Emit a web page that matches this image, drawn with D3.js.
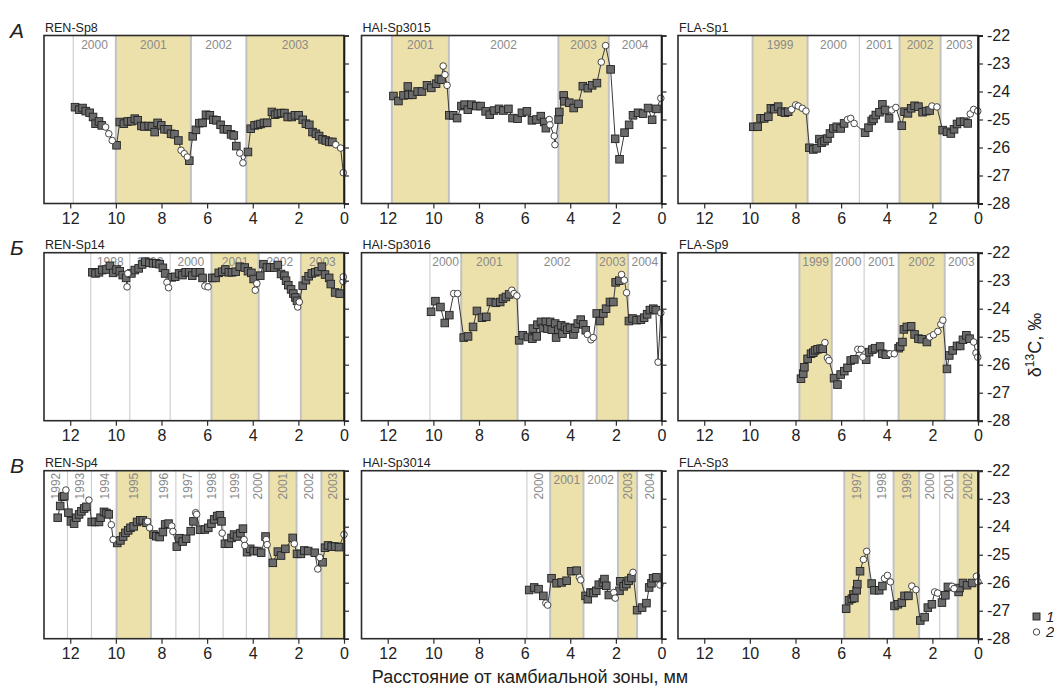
<!DOCTYPE html>
<html><head><meta charset="utf-8">
<script src="https://cdn.jsdelivr.net/npm/d3@7"></script>
<style>
body{margin:0;background:#fff;}
svg{font-family:"Liberation Sans",Arial,sans-serif;}
</style>
</head><body>
<svg id="chart" width="1054" height="687"></svg>
<script>
// δ13C profiles: [distance from cambium, mm; δ13C, ‰; point type (1 or 2)]
const renSp8 = [
[11.79,-24.56,1],[11.61,-24.65,1],[11.46,-24.59,1],[11.32,-24.70,1],[11.15,-24.76,1],[11.00,-24.91,1],[10.89,-25.15,1],[10.74,-25.07,1],[10.62,-25.21,1],
[10.45,-25.27,2],[10.31,-25.51,2],[10.16,-25.75,2],
[9.97,-25.92,1],[9.83,-25.09,1],[9.65,-25.15,1],[9.48,-25.07,1],[9.32,-25.06,1],[9.17,-24.97,1],[9.04,-25.03,1],[8.88,-25.23,1],[8.75,-25.25,1],[8.56,-25.23,1],[8.42,-25.25,1],[8.30,-25.45,1],[8.17,-25.12,1],[8.01,-25.21,1],[7.87,-25.35,1],[7.72,-25.35,1],[7.58,-25.51,1],[7.43,-25.53,1],[7.26,-25.75,1],
[7.14,-26.10,2],[7.00,-26.22,2],[6.87,-26.34,2],
[6.78,-26.47,1],[6.63,-25.60,1],[6.49,-25.37,1],[6.34,-25.13,1],[6.20,-25.12,1],[6.05,-24.83,1],[5.88,-24.85,1],[5.73,-25.01,1],[5.59,-25.03,1],[5.41,-25.19,1],[5.27,-25.35,1],[5.11,-25.35,1],[4.95,-25.53,1],[4.83,-25.57,1],[4.72,-25.95,1],
[4.57,-26.20,2],[4.43,-26.55,2],
[4.21,-26.16,1],[4.09,-25.33,1],[3.92,-25.21,1],[3.77,-25.19,1],[3.66,-25.16,1],[3.51,-25.12,1],[3.37,-25.12,1],[3.16,-24.73,1],[3.02,-24.83,1],[2.90,-24.79,1],[2.76,-24.77,1],[2.61,-24.77,1],[2.47,-24.91,1],[2.29,-24.91,1],[2.15,-24.85,1],[1.99,-24.85,1],[1.81,-25.01,1],[1.67,-25.15,1],[1.52,-25.19,1],[1.38,-25.45,1],[1.23,-25.51,1],[1.09,-25.59,1],[0.94,-25.71,1],[0.80,-25.75,1],[0.65,-25.80,1],[0.51,-25.80,1],
[0.36,-25.90,2],[0.15,-26.02,2],[0.03,-26.90,2]
];
const haiSp3015 = [
[11.75,-24.16,1],[11.53,-24.34,1],[11.31,-24.14,1],[11.12,-23.82,1],[11.09,-24.12,1],[10.92,-24.12,1],[10.69,-24.00,1],[10.50,-24.00,1],[10.28,-23.78,1],[10.09,-23.87,1],[9.88,-23.72,1],[9.76,-23.55,1],[9.64,-23.58,1],
[9.57,-23.09,2],[9.49,-23.40,2],[9.40,-23.78,2],
[9.30,-24.85,1],[9.13,-24.85,1],[8.96,-24.95,1],[8.77,-24.52,1],[8.63,-24.47,1],[8.49,-24.65,1],[8.33,-24.47,1],[8.12,-24.52,1],[7.93,-24.52,1],[7.71,-24.71,1],[7.53,-24.83,1],[7.34,-24.68,1],[7.12,-24.62,1],[6.93,-24.68,1],[6.71,-24.62,1],[6.53,-24.95,1],[6.31,-24.97,1],[6.12,-24.76,1],[5.90,-24.71,1],[5.68,-25.03,1],[5.48,-25.00,1],[5.29,-24.88,1],[5.14,-25.09,1],[5.07,-25.31,1],
[4.92,-25.00,2],[4.89,-25.19,2],[4.70,-25.59,2],[4.67,-25.90,2],
[4.51,-25.00,1],[4.48,-24.73,1],[4.29,-24.14,1],[4.26,-24.35,1],[4.04,-24.40,1],[3.85,-24.59,1],[3.64,-24.44,1],[3.45,-23.81,1],[3.23,-23.88,1],[3.04,-23.78,1],[2.83,-23.70,1],
[2.64,-22.95,2],[2.45,-22.36,2],
[2.23,-23.21,1],[2.03,-25.69,1],[1.84,-26.42,1],[1.62,-25.47,1],[1.42,-25.19,1],[1.25,-24.85,1],[1.03,-24.76,1],[0.81,-24.79,1],[0.59,-24.59,1],[0.41,-25.01,1],[0.22,-24.62,1],
[0.03,-24.24,2]
];
const flaSp1 = [
[9.85,-25.26,1],[9.66,-25.26,1],[9.53,-24.96,1],[9.37,-24.96,1],[9.19,-24.90,1],[9.08,-24.60,1],[8.93,-24.63,1],[8.76,-24.54,1],[8.61,-24.72,1],[8.46,-24.76,1],[8.32,-24.72,1],
[8.17,-24.64,2],[7.99,-24.48,2],[7.88,-24.52,2],[7.70,-24.60,2],[7.54,-24.70,2],
[7.39,-26.01,1],[7.22,-26.07,1],[7.07,-26.03,1],[6.95,-25.70,1],[6.85,-25.83,1],[6.73,-25.77,1],[6.60,-25.68,1],[6.49,-25.50,1],[6.34,-25.32,1],[6.19,-25.26,1],[6.02,-25.32,1],[5.87,-25.14,1],
[5.72,-25.00,2],[5.58,-24.96,2],[5.43,-25.14,2],
[4.95,-25.47,1],[4.80,-25.29,1],[4.66,-25.05,1],[4.58,-24.98,1],[4.48,-24.84,1],[4.32,-24.74,1],[4.19,-24.46,1],[4.07,-24.66,1],[3.90,-24.96,1],
[3.78,-24.66,2],[3.60,-24.57,2],
[3.34,-25.22,1],[3.22,-24.72,1],[3.07,-24.78,1],[2.93,-24.60,1],[2.78,-24.51,1],[2.61,-24.54,1],[2.43,-24.74,1],[2.27,-24.70,1],[2.12,-24.68,1],
[2.02,-24.52,2],[1.80,-24.55,2],
[1.55,-25.38,1],[1.36,-25.44,1],[1.19,-25.50,1],[1.05,-25.35,1],[0.92,-25.16,1],[0.78,-25.08,1],[0.61,-25.08,1],[0.45,-25.14,1],
[0.34,-24.80,2],[0.19,-24.64,2],[0.01,-24.70,2]
];
const renSp14 = [
[11.03,-22.70,1],[10.89,-22.74,1],[10.74,-22.70,1],[10.60,-22.62,1],[10.41,-22.60,1],[10.26,-22.47,1],[10.12,-22.72,1],[9.97,-22.60,1],[9.83,-22.66,1],[9.70,-22.80,1],[9.55,-22.90,1],
[9.51,-23.22,2],[9.48,-22.74,2],
[9.32,-22.74,1],[9.17,-22.62,1],[9.00,-22.56,1],[8.85,-22.42,1],[8.71,-22.32,1],[8.53,-22.36,1],[8.37,-22.38,1],[8.23,-22.38,1],[8.08,-22.41,1],[7.94,-22.54,1],[7.84,-22.74,1],
[7.76,-23.06,2],[7.69,-23.25,2],
[7.55,-22.88,1],[7.40,-22.86,1],[7.23,-22.74,1],[7.08,-22.80,1],[6.94,-22.70,1],[6.79,-22.70,1],[6.65,-22.82,1],[6.50,-22.70,1],[6.31,-22.70,1],[6.20,-22.90,1],
[6.10,-23.19,2],[5.96,-23.22,2],
[5.78,-22.90,1],[5.63,-22.90,1],[5.49,-22.72,1],[5.34,-22.68,1],[5.20,-22.60,1],[5.05,-22.70,1],[4.91,-22.70,1],[4.75,-22.68,1],[4.57,-22.50,1],[4.35,-22.53,1],[4.21,-22.66,1],[4.06,-22.72,1],[3.96,-22.94,1],
[3.89,-23.34,2],[3.82,-23.10,2],
[3.67,-22.82,1],[3.53,-22.41,1],[3.38,-22.53,1],[3.24,-22.53,1],[3.05,-22.53,1],[2.90,-22.44,1],[2.76,-22.76,1],[2.61,-22.82,1],[2.54,-23.00,1],[2.44,-23.16,1],[2.32,-23.31,1],[2.22,-23.46,1],[2.13,-23.60,1],[2.06,-23.72,1],
[2.03,-23.94,2],[1.96,-23.76,2],
[1.81,-23.18,1],[1.67,-22.98,1],[1.55,-22.84,1],[1.41,-22.74,1],[1.26,-22.70,1],[1.12,-22.66,1],[0.97,-22.50,1],[0.83,-22.78,1],[0.65,-22.90,1],[0.58,-23.12,1],[0.39,-23.42,1],[0.19,-23.46,1],
[0.04,-23.02,2],[0.03,-22.86,2]
];
const haiSp3016 = [
[10.10,-24.11,1],[9.91,-23.73,1],[9.69,-23.94,1],[9.50,-24.51,1],[9.30,-24.23,1],
[9.11,-23.46,2],[8.94,-23.46,2],
[8.67,-25.03,1],[8.48,-24.99,1],[8.26,-24.65,1],[8.09,-24.08,1],[7.87,-24.32,1],[7.68,-24.29,1],[7.48,-23.76,1],[7.26,-23.79,1],[7.07,-23.76,1],[6.95,-23.64,1],[6.82,-23.58,1],[6.68,-23.49,1],
[6.56,-23.34,2],[6.46,-23.46,2],[6.34,-23.54,2],
[6.24,-25.13,1],[6.08,-24.95,1],[5.86,-25.01,1],[5.66,-25.07,1],[5.64,-24.71,1],[5.47,-24.99,1],[5.44,-24.57,1],[5.28,-24.47,1],[5.20,-24.69,1],[5.07,-24.47,1],[5.00,-24.71,1],[4.88,-24.47,1],[4.81,-24.75,1],[4.66,-24.53,1],[4.62,-25.03,1],[4.52,-24.75,1],[4.40,-24.59,1],[4.34,-24.89,1],[4.23,-24.65,1],[4.13,-24.75,1],[4.01,-24.68,1],[3.86,-24.92,1],[3.79,-24.71,1],[3.67,-24.53,1],[3.54,-24.39,1],[3.43,-24.56,1],[3.32,-24.77,1],
[3.25,-24.92,2],[3.09,-25.11,2],[2.99,-25.03,2],
[2.84,-24.17,1],[2.70,-24.44,1],[2.55,-24.17,1],[2.43,-24.00,1],[2.26,-23.76,1],[2.11,-23.76,1],[2.01,-23.06,1],[1.85,-23.00,1],
[1.75,-22.78,2],[1.63,-22.98,2],[1.53,-23.43,2],
[1.43,-24.44,1],[1.27,-24.35,1],[1.09,-24.41,1],[0.90,-24.39,1],[0.76,-24.32,1],[0.63,-24.20,1],[0.51,-24.05,1],[0.36,-24.00,1],[0.25,-24.05,1],
[0.15,-25.91,2],[0.03,-24.15,2]
];
const flaSp9 = [
[7.76,-26.50,1],[7.66,-26.32,1],[7.61,-26.09,1],[7.47,-25.79,1],[7.32,-25.61,1],[7.22,-25.57,1],[7.14,-25.49,1],[7.03,-25.45,1],[6.90,-25.43,1],[6.81,-25.43,1],
[6.71,-25.21,2],[6.60,-25.76,2],[6.53,-25.85,2],
[6.31,-26.48,1],[6.16,-26.71,1],[6.02,-26.35,1],[5.86,-26.23,1],[5.72,-26.11,1],[5.58,-25.85,1],[5.42,-25.81,1],
[5.27,-25.45,2],[5.12,-25.45,2],[5.05,-25.73,2],
[4.90,-25.82,1],[4.77,-25.55,1],[4.63,-25.46,1],[4.51,-25.41,1],[4.29,-25.35,1],[4.19,-25.61,1],[4.04,-25.64,1],
[3.85,-25.61,2],[3.67,-25.61,2],
[3.48,-25.41,1],[3.41,-25.35,1],[3.31,-25.19,1],[3.25,-24.74,1],[3.12,-24.65,1],[2.93,-24.63,1],[2.78,-24.92,1],[2.61,-25.07,1],[2.46,-25.09,1],[2.24,-25.19,1],
[2.12,-25.01,2],[1.95,-24.93,2],[1.76,-24.81,2],[1.63,-24.56,2],[1.54,-24.41,2],
[1.36,-26.15,1],[1.26,-25.67,1],[1.11,-25.49,1],[0.92,-25.33,1],[0.78,-25.33,1],[0.66,-25.11,1],[0.51,-24.95,1],[0.37,-25.07,1],
[0.19,-25.19,2],[0.09,-25.58,2],[0.01,-25.73,2]
];
const renSp4 = [
[12.55,-23.68,1],[12.44,-23.26,1],[12.34,-22.93,1],[12.26,-22.91,1],
[12.19,-22.69,2],
[12.08,-23.50,1],[11.97,-23.81,1],[11.83,-23.89,1],[11.73,-23.68,1],[11.61,-23.56,1],[11.51,-23.45,1],[11.39,-23.35,1],[11.29,-23.29,1],
[11.18,-23.05,2],
[11.06,-23.83,1],[10.91,-23.83,1],[10.74,-23.83,1],[10.67,-23.68,1],[10.52,-23.47,1],[10.41,-23.51,1],[10.31,-23.56,1],
[10.20,-23.93,2],[10.12,-24.46,2],
[9.94,-24.58,1],[9.80,-24.49,1],[9.68,-24.35,1],[9.58,-24.22,1],[9.46,-24.13,1],[9.36,-24.04,1],[9.22,-23.99,1],[9.07,-23.83,1],[8.93,-23.77,1],[8.82,-23.77,1],[8.66,-23.86,1],
[8.61,-23.81,2],[8.52,-24.04,2],
[8.35,-24.28,1],[8.23,-24.34,1],[8.08,-24.37,1],[7.94,-24.19,1],[7.84,-23.92,1],[7.69,-23.89,1],
[7.55,-23.98,2],[7.50,-24.17,2],
[7.33,-24.71,1],[7.21,-24.41,1],[7.07,-24.53,1],[6.92,-24.43,1],[6.72,-24.16,1],[6.60,-23.81,1],
[6.50,-23.50,2],[6.46,-23.56,2],
[6.31,-24.11,1],[6.10,-24.10,1],[5.95,-24.04,1],[5.81,-23.89,1],[5.69,-23.74,1],[5.56,-23.62,1],[5.44,-23.59,1],[5.37,-23.81,1],
[5.34,-24.23,2],
[5.22,-24.61,1],[5.05,-24.61,1],[4.93,-24.40,1],[4.82,-24.28,1],[4.69,-24.35,1],[4.54,-24.23,1],[4.43,-24.07,1],
[4.38,-24.46,2],[4.35,-24.67,2],
[4.25,-24.91,1],[4.11,-24.79,1],[3.96,-24.87,1],[3.80,-24.87,1],[3.63,-24.93,1],[3.44,-24.35,1],
[3.41,-24.46,2],[3.37,-24.64,2],
[3.12,-25.29,1],[2.90,-24.89,1],[2.76,-25.03,1],[2.57,-24.79,1],[2.25,-24.40,1],
[2.18,-24.61,2],
[2.06,-24.97,1],[1.89,-24.97,1],[1.74,-24.85,1],[1.57,-24.87,1],[1.28,-24.93,1],
[1.15,-25.51,2],[1.06,-25.10,2],
[0.94,-25.27,1],[0.83,-24.75,1],[0.70,-24.67,1],[0.54,-24.71,1],[0.39,-24.71,1],[0.22,-24.73,1],
[0.00,-24.28,2]
];
const haiSp3014 = [
[5.80,-26.26,1],[5.58,-26.17,1],[5.39,-26.23,1],[5.18,-26.47,1],
[5.07,-26.73,2],[4.99,-26.80,2],
[4.82,-25.84,1],[4.60,-26.02,1],[4.38,-25.99,1],[4.16,-25.93,1],[3.96,-25.59,1],[3.72,-25.57,1],
[3.60,-25.81,2],[3.54,-25.90,2],
[3.33,-26.47,1],[3.23,-26.59,1],[3.11,-26.35,1],[2.98,-26.37,1],[2.86,-26.29,1],[2.75,-26.07,1],[2.57,-25.99,1],[2.50,-25.87,1],[2.42,-26.11,1],[2.31,-26.44,1],
[2.09,-26.35,2],[2.03,-26.55,2],
[1.84,-26.29,1],[1.81,-25.95,1],[1.66,-26.13,1],[1.54,-26.05,1],[1.44,-25.93,1],[1.32,-25.83,1],
[1.25,-25.63,2],
[1.07,-26.98,1],[0.85,-26.89,1],[0.66,-26.73,1],[0.54,-26.17,1],[0.44,-26.02,1],[0.37,-25.84,1],[0.22,-25.81,1],
[0.07,-26.08,2]
];
const flaSp3 = [
[5.78,-26.93,1],[5.65,-26.63,1],[5.53,-26.57,1],[5.46,-26.42,1],[5.42,-26.55,1],[5.32,-26.27,1],[5.29,-26.05,1],[5.17,-25.59,1],
[5.02,-25.17,2],[4.88,-24.88,2],
[4.66,-26.03,1],[4.54,-26.27,1],[4.33,-26.27,1],[4.19,-26.12,1],
[4.10,-25.85,2],[3.97,-25.74,2],[3.84,-25.97,2],
[3.66,-26.83,1],[3.51,-26.77,1],[3.34,-26.71,1],[3.22,-26.47,1],[3.05,-26.47,1],
[2.90,-26.12,2],[2.72,-26.25,2],
[2.53,-27.35,1],[2.34,-27.23,1],[2.20,-26.89,1],[2.02,-26.77,1],
[1.90,-26.33,2],[1.77,-26.37,2],
[1.58,-26.71,1],[1.43,-26.45,1],[1.32,-26.15,1],
[1.14,-26.13,2],[1.05,-26.21,2],
[0.85,-26.33,1],[0.81,-26.19,1],[0.66,-26.01,1],[0.48,-26.09,1],[0.26,-26.01,1],
[0.07,-25.77,2],[0.00,-25.97,2]
];

// annual ring boundaries (mm from cambium) and the years between them
const renSp8Bounds = [11.87, 10.0, 6.71, 4.28, 0];
const renSp8Years = ["2000","2001","2002","2003"];
const haiSp3015Bounds = [11.82, 9.32, 4.52, 2.31, 0];
const haiSp3015Years = ["2001","2002","2003","2004"];
const flaSp1Bounds = [9.88, 7.47, 5.20, 3.44, 1.64, 0];
const flaSp1Years = ["1999","2000","2001","2002","2003"];
const renSp14Bounds = [11.10, 9.39, 7.62, 5.81, 3.74, 1.89, 0];
const renSp14Years = ["1998","1999","2000","2001","2002","2003"];
const haiSp3016Bounds = [10.15, 8.78, 6.31, 2.84, 1.46, 0];
const haiSp3016Years = ["2000","2001","2002","2003","2004"];
const flaSp9Bounds = [7.83, 6.41, 4.99, 3.48, 1.46, 0];
const flaSp9Years = ["1999","2000","2001","2002","2003"];
const renSp4Bounds = [13.15, 12.12, 11.07, 9.97, 8.46, 7.37, 6.34, 5.30, 4.28, 3.29, 2.08, 0.99, 0];
const renSp4Years = ["1992","1993","1994","1995","1996","1997","1998","1999","2000","2001","2002","2003"];
const haiSp3014Bounds = [5.90, 4.88, 3.42, 1.91, 1.07, 0];
const haiSp3014Years = ["2000","2001","2002","2003","2004"];
const flaSp3Bounds = [5.86, 4.77, 3.70, 2.58, 1.68, 0.89, 0];
const flaSp3Years = ["1997","1998","1999","2000","2001","2002"];

// highlighted years per site
const renShaded = ["1995","2001","2003"];
const haiShaded = ["2001","2003"];
const flaShaded = ["1997","1999","2002"];

const xTicks = [12,10,8,6,4,2,0];
const yTicks = [-22,-23,-24,-25,-26,-27,-28];
const rowLetters = ["А","Б","В"];
const xTitle = "Расстояние от камбиальной зоны, мм";

const panels = [
  {name:"REN-Sp8", data:renSp8, bounds:renSp8Bounds, years:renSp8Years, shaded:renShaded},
  {name:"HAI-Sp3015", data:haiSp3015, bounds:haiSp3015Bounds, years:haiSp3015Years, shaded:haiShaded},
  {name:"FLA-Sp1", data:flaSp1, bounds:flaSp1Bounds, years:flaSp1Years, shaded:flaShaded},
  {name:"REN-Sp14", data:renSp14, bounds:renSp14Bounds, years:renSp14Years, shaded:renShaded},
  {name:"HAI-Sp3016", data:haiSp3016, bounds:haiSp3016Bounds, years:haiSp3016Years, shaded:haiShaded},
  {name:"FLA-Sp9", data:flaSp9, bounds:flaSp9Bounds, years:flaSp9Years, shaded:flaShaded},
  {name:"REN-Sp4", data:renSp4, bounds:renSp4Bounds, years:renSp4Years, shaded:renShaded},
  {name:"HAI-Sp3014", data:haiSp3014, bounds:haiSp3014Bounds, years:haiSp3014Years, shaded:haiShaded},
  {name:"FLA-Sp3", data:flaSp3, bounds:flaSp3Bounds, years:flaSp3Years, shaded:flaShaded}
];
// year labels written vertically where rings are narrow
const verticalLabels = {
  "REN-Sp4": "all",
  "FLA-Sp3": "all",
  "HAI-Sp3014": ["2000","2003","2004"]
};

// layout
const colLeft = [44, 361.5, 678];
const rowTop = [35.5, 252.7, 470.7];
const pw = 300, ph = 168;
const xMax = 13.15;

const svg = d3.select("#chart");

panels.forEach((p, i) => {
  const col = i % 3, row = Math.floor(i / 3);
  const left = colLeft[col], top = rowTop[row];
  const x = d3.scaleLinear().domain([xMax, 0]).range([left, left + pw]);
  const y = d3.scaleLinear().domain([-28, -22]).range([top + ph, top]);
  const g = svg.append("g");

  // ring bands
  const bands = p.years.map((yr, k) => ({yr, x0: p.bounds[k], x1: p.bounds[k + 1]}));
  g.selectAll("rect.band").data(bands.filter(b => p.shaded.includes(b.yr))).join("rect")
    .attr("x", b => x(b.x0)).attr("width", b => x(b.x1) - x(b.x0))
    .attr("y", top).attr("height", ph)
    .attr("fill", "#ede1ab");

  // ring boundaries
  g.selectAll("line.bound").data(p.bounds.filter(b => b > 0 && b < xMax)).join("line")
    .attr("x1", b => x(b)).attr("x2", b => x(b))
    .attr("y1", top).attr("y2", top + ph)
    .attr("stroke", b => {
      const adj = bands.some(bd => p.shaded.includes(bd.yr) && (bd.x0 === b || bd.x1 === b));
      return adj ? "#c2c2c2" : "#d0d0d0";
    })
    .attr("stroke-width", b => {
      const adj = bands.some(bd => p.shaded.includes(bd.yr) && (bd.x0 === b || bd.x1 === b));
      return adj ? 2 : 1.2;
    });

  // year labels
  const vert = verticalLabels[p.name];
  bands.forEach(b => {
    const cx = (x(b.x0) + x(b.x1)) / 2;
    const isV = vert === "all" || (Array.isArray(vert) && vert.includes(b.yr));
    const t = g.append("text").text(b.yr)
      .attr("fill", "#8a8a8a").attr("font-size", 12);
    if (isV) {
      t.attr("transform", `translate(${cx + 4.5},${top + 2}) rotate(-90)`)
        .attr("text-anchor", "end");
    } else {
      t.attr("x", cx).attr("y", top + 13).attr("text-anchor", "middle");
    }
  });

  // profile line and points
  const line = d3.line().x(d => x(d[0])).y(d => y(d[1]));
  g.append("path").datum(p.data).attr("d", line)
    .attr("fill", "none").attr("stroke", "#3a3a3a").attr("stroke-width", 1);
  g.selectAll("rect.pt").data(p.data.filter(d => d[2] === 1)).join("rect")
    .attr("x", d => x(d[0]) - 3.8).attr("y", d => y(d[1]) - 3.8)
    .attr("width", 7.6).attr("height", 7.6)
    .attr("fill", "#6a6a6a").attr("stroke", "#222").attr("stroke-width", 0.9);
  g.selectAll("circle.pt").data(p.data.filter(d => d[2] === 2)).join("circle")
    .attr("cx", d => x(d[0])).attr("cy", d => y(d[1])).attr("r", 3.3)
    .attr("fill", "#fff").attr("stroke", "#333").attr("stroke-width", 0.9);

  // frame
  g.append("rect").attr("x", left).attr("y", top).attr("width", pw).attr("height", ph)
    .attr("fill", "none").attr("stroke", "#2b2b2b").attr("stroke-width", 1.6);

  // bottom axis
  const xa = g.append("g").attr("transform", `translate(0,${top + ph})`)
    .call(d3.axisBottom(x).tickValues(xTicks).tickSize(5).tickPadding(4).tickFormat(d => String(d)));
  xa.select(".domain").remove();
  xa.selectAll("line").attr("stroke", "#2b2b2b").attr("stroke-width", 1.2);
  xa.selectAll("text").attr("font-size", 16).attr("fill", "#222")
    .attr("font-family", "'Liberation Sans', Arial, sans-serif");

  // right axis
  const ya = g.append("g").attr("transform", `translate(${left + pw},0)`)
    .call(d3.axisRight(y).tickValues(yTicks).tickSize(5).tickPadding(4)
      .tickFormat(col === 2 ? (d => String(d)) : ""));
  ya.select(".domain").attr("stroke", "#1a1a1a").attr("stroke-width", col === 2 ? 2 : 1.6);
  ya.selectAll("line").attr("stroke", "#2b2b2b").attr("stroke-width", 1.2);
  ya.selectAll("text").attr("font-size", 16).attr("fill", "#222")
    .attr("font-family", "'Liberation Sans', Arial, sans-serif");

  // panel name
  g.append("text").text(p.name).attr("x", left + 1).attr("y", top - 4)
    .attr("font-size", 12.5).attr("fill", "#222");

  if (col === 0) {
    g.append("text").text(rowLetters[row]).attr("x", 10).attr("y", top + 2)
      .attr("font-size", 21).attr("font-style", "italic").attr("fill", "#222");
  }
});

// y-axis title
const yt = svg.append("text")
  .attr("transform", "translate(1041,345) rotate(-90)")
  .attr("text-anchor", "middle").attr("font-size", 18).attr("fill", "#222");
yt.append("tspan").text("δ");
yt.append("tspan").text("13").attr("font-size", 12).attr("dy", -7);
yt.append("tspan").text("C, ‰").attr("dy", 7);

// x-axis title
svg.append("text").text(xTitle).attr("x", 530).attr("y", 683)
  .attr("text-anchor", "middle").attr("font-size", 18).attr("fill", "#222");

// legend
const lg = svg.append("g");
lg.append("rect").attr("x", 1033).attr("y", 613).attr("width", 7).attr("height", 7)
  .attr("fill", "#6a6a6a").attr("stroke", "#222").attr("stroke-width", 0.9);
lg.append("text").text("1").attr("x", 1046).attr("y", 622)
  .attr("font-size", 15).attr("font-style", "italic").attr("fill", "#222");
lg.append("circle").attr("cx", 1036.5).attr("cy", 632).attr("r", 3.2)
  .attr("fill", "#fff").attr("stroke", "#333").attr("stroke-width", 0.9);
lg.append("text").text("2").attr("x", 1046).attr("y", 637)
  .attr("font-size", 15).attr("font-style", "italic").attr("fill", "#222");
</script>
</body></html>
